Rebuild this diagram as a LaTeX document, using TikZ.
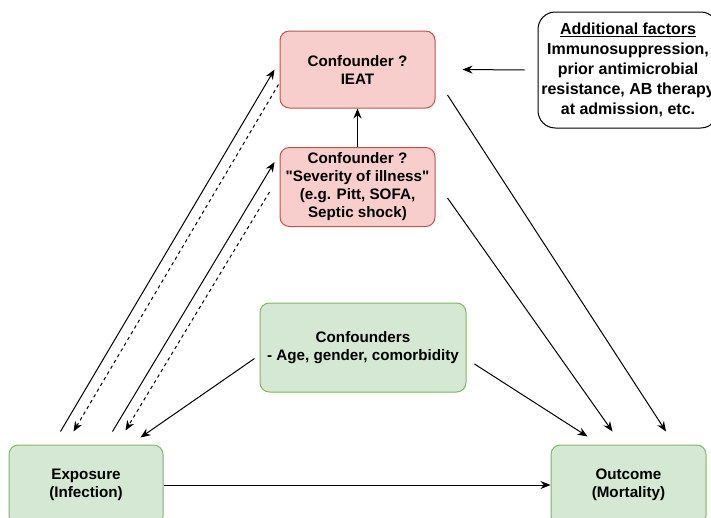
\documentclass[tikz,border=0pt]{standalone}
\usepackage{fontspec}
\setmainfont{Liberation Sans}
\usetikzlibrary{arrows.meta, positioning, calc}
\definecolor{redfill}{HTML}{F8CECC}
\definecolor{redline}{HTML}{B85450}
\definecolor{greenfill}{HTML}{D5E8D4}
\definecolor{greenline}{HTML}{82B366}

\begin{document}
\begin{tikzpicture}[
  x=0.75pt, y=-0.75pt,
  >={Stealth[length=7.5pt, width=6pt]},
  every node/.style={font=\fontsize{11.4}{13.5}\selectfont\bfseries},
  susp/.style={draw=redline, fill=redfill, line width=0.75pt, rounded corners=7pt,
               minimum width=116.25pt, align=center, inner sep=0pt},
  obs/.style={draw=greenline, fill=greenfill, line width=0.75pt, rounded corners=7pt,
              align=center, inner sep=0pt},
  note/.style={draw=black, fill=white, line width=0.75pt, rounded corners=13pt,
               minimum width=135pt, minimum height=87pt, align=center, inner sep=0pt,
               font=\fontsize{12}{15}\selectfont\bfseries},
  edge/.style={->, line width=0.75pt},
  back/.style={->, line width=0.75pt, dash pattern=on 2.5pt off 2.5pt}
]
  \clip (0,0) rectangle (711,518);

  \node[susp, minimum height=57.75pt] (ieat) at (357.5,69.5) {Confounder ?\\IEAT};
  \node[susp, minimum height=59.25pt] (sev)  at (357.5,187)
    {Confounder ?\\\textquotedbl Severity of illness\textquotedbl\\(e.g. Pitt, SOFA,\\Septic shock)};
  \node[note] (addf) at (628,70)
    {\underline{Additional factors}\\Immunosuppression,\\prior antimicrobial\\resistance, AB therapy\\at admission, etc.};
  \node[obs, minimum width=154.5pt, minimum height=66.75pt] (conf) at (363,347.5)
    {Confounders\\- Age, gender, comorbidity};
  \node[obs, minimum width=115.5pt, minimum height=60pt] (expo) at (86,485) {Exposure\\(Infection)};
  \node[obs, minimum width=116.25pt, minimum height=60pt] (outc) at (628.5,485) {Outcome\\(Mortality)};

  \draw[edge] (expo) -- (outc);
  \draw[edge] ($(conf.west)+(-5,11)$) -- ($(expo.north east)+(-23,-7)$);
  \draw[edge] ($(conf.east)+(8,16.5)$) -- ($(outc.north west)+(37,-8)$);
  \draw[edge] ($(sev.east)+(12,11)$) -- ($(outc.north west)+(62,-13)$);
  \draw[edge] ($(ieat.east)+(12,25.5)$) -- ($(outc.north)+(37.5,-13)$);
  \draw[edge] (sev) -- (ieat);
  \draw[edge] ($(addf.west)+(-13,0)$) -- ($(ieat.east)+(27,0)$);

  \draw[edge] ($(expo.north west)+(52,-13)$) -- ($(ieat.west)+(-5,0)$);
  \draw[back] ($(ieat.west)+(-1,15)$) -- ($(expo.north west)+(65,-13)$);
  \draw[edge] ($(expo.north west)+(104,-13)$) -- ($(sev.west)+(-5,-25)$);
  \draw[back] ($(sev.west)+(-10,5)$) -- ($(expo.north west)+(117,-14)$);
\end{tikzpicture}
\end{document}
